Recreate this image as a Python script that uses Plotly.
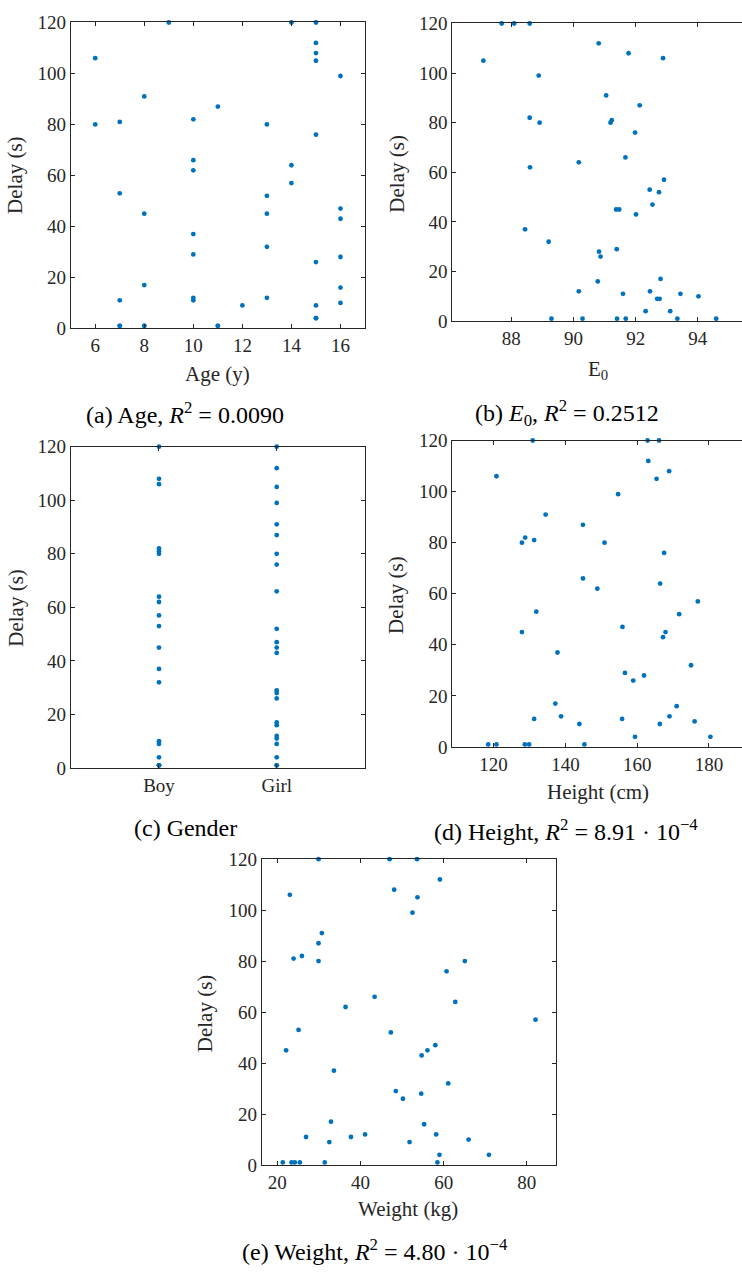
import plotly.graph_objects as go

W, H = 742, 1279

# ---------------- data ----------------
age_x = [6, 6, 7, 7, 7, 7, 7, 8, 8, 8, 8, 8, 9, 10, 10, 10, 10, 10, 10, 10, 11, 11, 11, 12,
         13, 13, 13, 13, 13, 14, 14, 14, 15, 15, 15, 15, 15, 15, 15, 15, 15, 16, 16, 16, 16, 16, 16]
age_y = [106, 80, 81, 53, 11, 1, 1, 91, 45, 17, 1, 1, 120, 82, 66, 62, 37, 29, 12, 11, 87, 1, 1, 9,
         80, 52, 45, 32, 12, 120, 64, 57, 120, 112, 108, 105, 76, 26, 9, 4, 4, 99, 47, 43, 28, 16, 10]

e0_x = [87.69, 88.09, 88.59, 87.10, 90.81, 91.77, 92.88, 88.88, 91.05, 92.13, 88.59, 88.91,
        91.19, 91.23, 91.98, 91.67, 90.17, 88.60, 92.91, 92.45, 92.75, 92.54, 91.37, 91.47,
        92.01, 88.44, 89.20, 91.39, 90.82, 90.87, 92.80, 90.78, 90.17, 92.46, 91.59, 93.44,
        94.02, 92.69, 92.77, 92.32, 93.11, 89.29, 90.29, 91.40, 91.68, 93.34, 94.59]
e0_y = [120, 120, 120, 105, 112, 108, 106, 99, 91, 87, 82, 80, 80, 81, 76, 66, 64, 62, 57, 53,
        52, 47, 45, 45, 43, 37, 32, 29, 28, 26, 17, 16, 12, 12, 11, 11, 10, 9, 9, 4, 4, 1, 1, 1,
        1, 1, 1]

gender_cats = ["Boy", "Girl"]
boy_y = [120, 108, 106, 82, 81, 80, 64, 62, 57, 53, 45, 37, 32, 10, 9, 4, 1, 1, 1]
girl_y = [120, 112, 105, 99, 91, 87, 80, 76, 66, 52, 47, 45, 43, 29, 28, 26, 17, 16, 12, 11, 9,
          4, 1, 1]

height_x = [130.9, 162.9, 166.1, 120.8, 163.1, 168.9, 165.4, 154.7, 134.5, 144.9, 128.8, 127.9,
            131.3, 150.9, 167.5, 144.9, 166.4, 148.9, 176.9, 171.7, 131.9, 155.9, 127.9, 167.9,
            167.2, 137.8, 175.0, 156.6, 161.9, 158.9, 137.2, 171.0, 138.8, 169.0, 131.3, 155.8,
            176.0, 143.9, 166.3, 159.4, 180.4, 118.5, 120.8, 128.7, 129.9, 145.3]
height_y = [120, 120, 120, 106, 112, 108, 105, 99, 91, 87, 82, 80, 81, 80, 76, 66, 64, 62, 57,
            52, 53, 47, 45, 45, 43, 37, 32, 29, 28, 26, 17, 16, 12, 12, 11, 11, 10, 9, 9, 4, 4,
            1, 1, 1, 1, 1]

weight_x = [29.9, 47.0, 53.6, 59.1, 23.0, 48.1, 53.7, 52.5, 30.7, 29.9, 23.9, 25.9, 29.9, 65.1,
            60.7, 43.4, 62.8, 36.4, 82.1, 25.1, 47.3, 58.0, 22.1, 56.1, 54.7, 33.6, 61.1, 48.5,
            54.6, 50.2, 32.9, 55.3, 41.1, 58.2, 26.9, 37.7, 66.0, 32.5, 51.8, 59.0, 70.9, 21.3,
            23.4, 24.2, 25.4, 31.4, 58.5]
weight_y = [120, 120, 120, 112, 106, 108, 105, 99, 91, 87, 81, 82, 80, 80, 76, 66, 64, 62, 57,
            53, 52, 47, 45, 45, 43, 37, 32, 29, 28, 26, 17, 16, 12, 12, 11, 11, 10, 9, 9, 4, 4,
            1, 1, 1, 1, 1, 1]

captions = [
    "(a) Age, <i>R</i><sup>2</sup> = 0.0090",
    "(b) <i>E</i><sub>0</sub>, <i>R</i><sup>2</sup> = 0.2512",
    "(c) Gender",
    "(d) Height, <i>R</i><sup>2</sup> = 8.91 · 10<sup>−4</sup>",
    "(e) Weight, <i>R</i><sup>2</sup> = 4.80 · 10<sup>−4</sup>",
]
xlabels = ["Age (y)", "E<sub>0</sub>", "", "Height (cm)", "Weight (kg)"]
ylabel = "Delay (s)"

# ---------------- styling ----------------
BLUE = "#0072BD"
INK = "#262626"
FONT = "Liberation Serif, Times New Roman, serif"


def px_x(p):
    return p / W


def px_y(p):
    return 1 - p / H


# panel geometry in pixels: (left, right, top, bottom)
boxes = {
    1: (70.7, 365.0, 12.7, 323.7),
    2: (452.3, 742.0, 13.7, 316.3),
    3: (70.7, 365.0, 444.0, 770.7),
    4: (452.3, 742.0, 437.7, 749.3),
    5: (261.7, 556.3, 863.3, 1174.3),
}

fig = go.Figure()

series = [
    (1, age_x, age_y),
    (2, e0_x, e0_y),
    (3, [1] * len(boy_y) + [2] * len(girl_y), boy_y + girl_y),
    (4, height_x, height_y),
    (5, weight_x, weight_y),
]
for i, xs, ys in series:
    sfx = "" if i == 1 else str(i)
    fig.add_trace(go.Scatter(
        x=xs, y=ys, mode="markers", xaxis="x" + sfx, yaxis="y" + sfx,
        marker=dict(color=BLUE, size=4.8, line=dict(width=0)),
        cliponaxis=False, showlegend=False, hoverinfo="skip"))

xranges = {1: [5, 17], 2: [86.1, 95.42], 3: [0.25, 2.75], 4: [108.5, 189.2], 5: [16.23, 87.1]}
xticks = {1: [6, 8, 10, 12, 14, 16], 2: [88, 90, 92, 94], 3: [1, 2],
          4: [120, 140, 160, 180], 5: [20, 40, 60, 80]}

layout = dict(
    width=W, height=H, autosize=False,
    margin=dict(l=0, r=0, t=0, b=0),
    paper_bgcolor="white", plot_bgcolor="white",
    font=dict(family=FONT, color=INK),
    showlegend=False,
)

for i, (l, r, t, b) in boxes.items():
    sfx = "" if i == 1 else str(i)
    mirror_y = "ticks" if i in (1, 3, 5) else False
    xa = dict(
        domain=[px_x(l), px_x(r)], anchor="y" + sfx, range=xranges[i],
        tickmode="array", tickvals=xticks[i],
        showline=True, linecolor=INK, linewidth=1, mirror="ticks",
        ticks="inside", ticklen=4, tickcolor=INK, tickwidth=1,
        showgrid=False, zeroline=False,
        tickfont=dict(family=FONT, size=19, color=INK),
    )
    if i == 3:
        xa["ticktext"] = gender_cats
    ya = dict(
        domain=[px_y(b), px_y(t)], anchor="x" + sfx, range=[0, 120],
        tickmode="array", tickvals=[0, 20, 40, 60, 80, 100, 120],
        showline=True, linecolor=INK, linewidth=1, mirror=mirror_y,
        ticks="inside", ticklen=4, tickcolor=INK, tickwidth=1,
        showgrid=False, zeroline=False,
        tickfont=dict(family=FONT, size=19, color=INK),
    )
    layout["xaxis" + sfx] = xa
    layout["yaxis" + sfx] = ya

fig.update_layout(**layout)

ann = []
# y-axis titles (x center px, y center px)
ylab_pos = [(15.7, 168.0), (396.7, 166.7), (15.7, 608.0), (396.7, 595.0), (205.0, 1020.0)]
for (x, y) in ylab_pos:
    ann.append(dict(x=px_x(x), y=px_y(y), xref="paper", yref="paper", text=ylabel,
                    textangle=-90, showarrow=False, xanchor="center", yanchor="middle",
                    font=dict(family=FONT, size=21, color=INK)))
# x-axis titles
xlab_pos = [(217.8, 370.0), (598.0, 366.0), None, (598.0, 795.0), (408.0, 1219.0)]
for lab, pos in zip(xlabels, xlab_pos):
    if pos is None:
        continue
    ann.append(dict(x=px_x(pos[0]), y=px_y(pos[1]), xref="paper", yref="paper", text=lab,
                    showarrow=False, xanchor="center", yanchor="middle",
                    font=dict(family=FONT, size=21, color=INK)))
# captions
cap_pos = [(185.0, 410.0), (566.7, 410.0), (185.5, 832.0), (566.0, 834.0), (375.0, 1261.0)]
for cap, (x, y) in zip(captions, cap_pos):
    ann.append(dict(x=px_x(x), y=px_y(y), xref="paper", yref="paper", text=cap,
                    showarrow=False, xanchor="center", yanchor="middle",
                    font=dict(family=FONT, size=24, color="black")))

fig.update_layout(annotations=ann)
fig.write_html("out.html")
